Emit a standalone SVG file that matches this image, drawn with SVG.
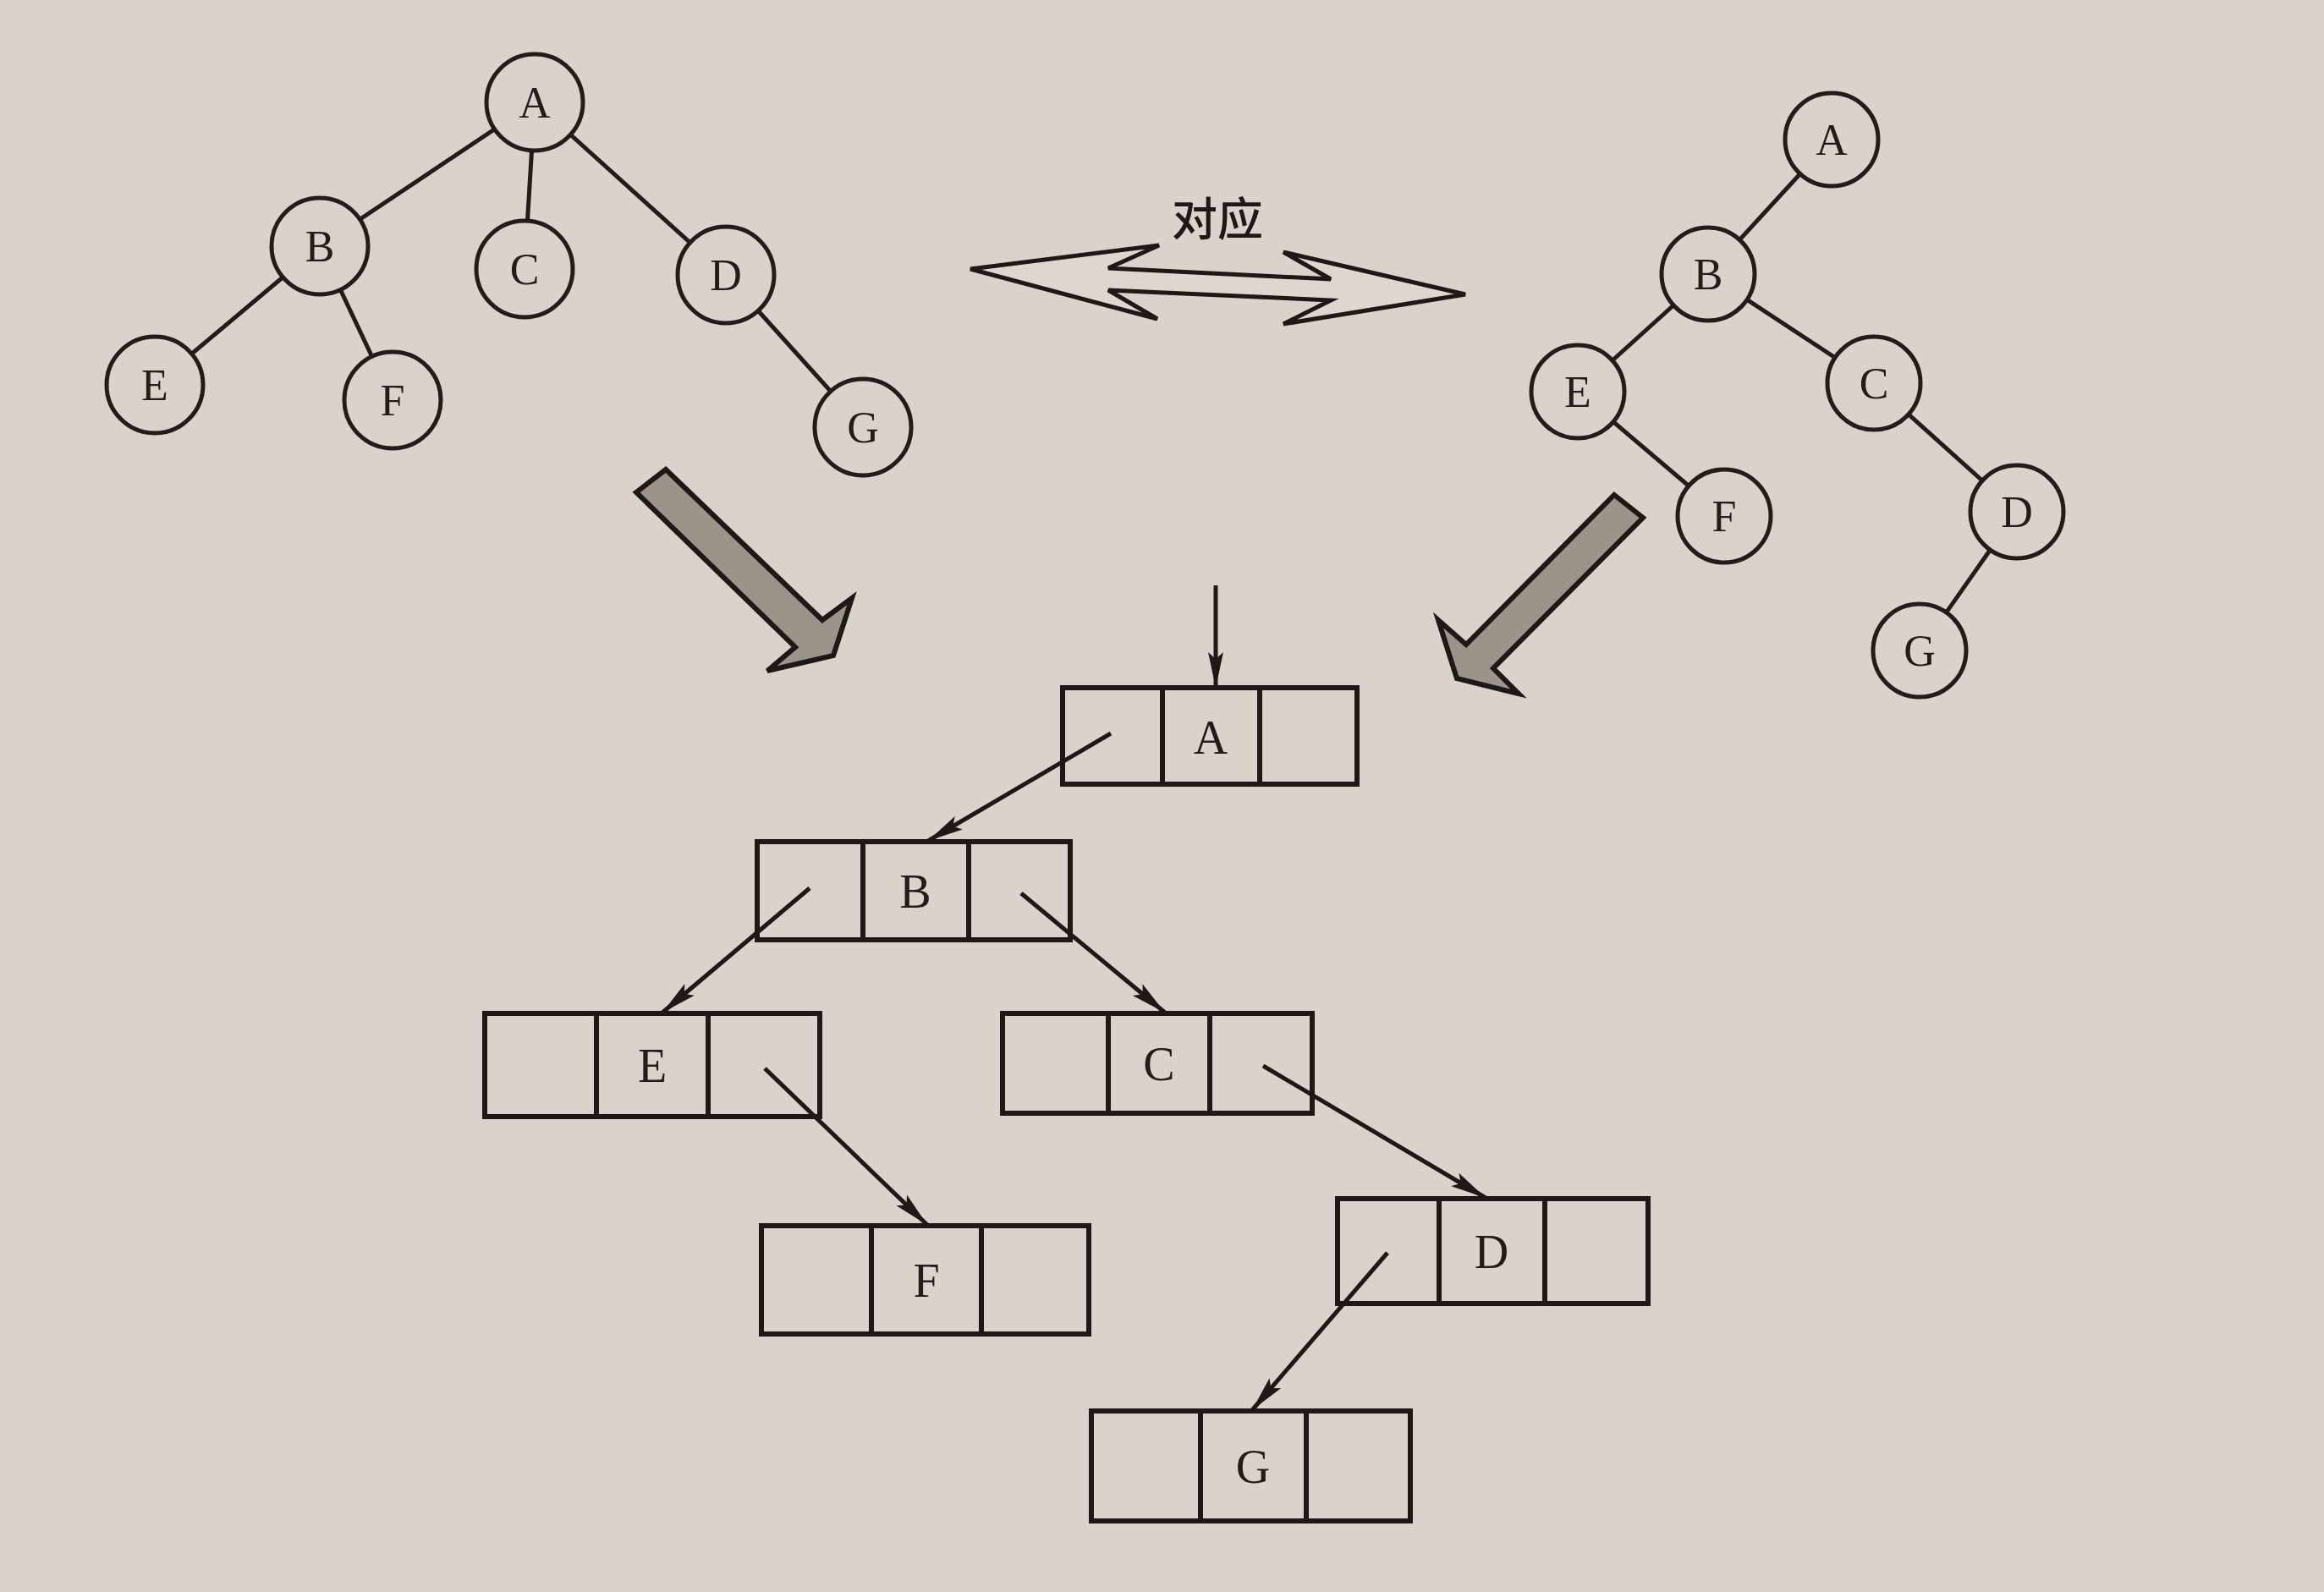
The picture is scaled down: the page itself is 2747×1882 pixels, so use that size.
<svg xmlns="http://www.w3.org/2000/svg" width="2747" height="1882" viewBox="0 0 2747 1882">
<defs>
<style>
.bg{fill:#d9d3cb}
.circ{fill:#d9d3cb;stroke:#231c1a;stroke-width:5}
.edge{stroke:#231c1a;stroke-width:5;fill:none}
.lbl{font-family:"Liberation Serif","Times New Roman",serif;font-size:52px;fill:#231c1a;text-anchor:middle;dominant-baseline:central}
.blbl{font-family:"Liberation Serif","Times New Roman",serif;font-size:56px;fill:#231c1a;text-anchor:middle;dominant-baseline:central}
.box{fill:none;stroke:#1e1816;stroke-width:6}
.link{stroke:#1e1816;stroke-width:5;fill:none;marker-end:url(#ah)}
.big{fill:#9c938b;stroke:#1e1816;stroke-width:6;stroke-linejoin:miter}
.dbl{fill:#ddd7cf;stroke:#1e1816;stroke-width:5;stroke-linejoin:miter}
.cjk{font-family:"Noto Sans CJK SC","Noto Sans",sans-serif;font-size:54px;font-weight:500;fill:#1e1816;text-anchor:middle;dominant-baseline:central}
</style>
<marker id="ah" markerUnits="userSpaceOnUse" markerWidth="46" markerHeight="24" refX="42" refY="12" orient="auto">
<path d="M0,3 L42,12 L0,21 L8,12 Z" fill="#1e1816"/>
</marker>
</defs>
<rect class="bg" x="0" y="0" width="2747" height="1882"/>

<g id="left-tree-edges">
<line class="edge" x1="632" y1="121" x2="378" y2="291"/>
<line class="edge" x1="632" y1="121" x2="620" y2="318"/>
<line class="edge" x1="632" y1="121" x2="858" y2="325"/>
<line class="edge" x1="378" y1="291" x2="183" y2="455"/>
<line class="edge" x1="378" y1="291" x2="464" y2="473"/>
<line class="edge" x1="858" y1="325" x2="1020" y2="505"/>
</g>
<g id="L-A"><circle class="circ" cx="632" cy="121" r="57"/><text class="lbl" x="632" y="121">A</text></g>
<g id="L-B"><circle class="circ" cx="378" cy="291" r="57"/><text class="lbl" x="378" y="291">B</text></g>
<g id="L-C"><circle class="circ" cx="620" cy="318" r="57"/><text class="lbl" x="620" y="318">C</text></g>
<g id="L-D"><circle class="circ" cx="858" cy="325" r="57"/><text class="lbl" x="858" y="325">D</text></g>
<g id="L-E"><circle class="circ" cx="183" cy="455" r="57"/><text class="lbl" x="183" y="455">E</text></g>
<g id="L-F"><circle class="circ" cx="464" cy="473" r="57"/><text class="lbl" x="464" y="473">F</text></g>
<g id="L-G"><circle class="circ" cx="1020" cy="505" r="57"/><text class="lbl" x="1020" y="505">G</text></g>

<g id="right-tree-edges">
<line class="edge" x1="2165" y1="165" x2="2019" y2="324"/>
<line class="edge" x1="2019" y1="324" x2="1865" y2="463"/>
<line class="edge" x1="2019" y1="324" x2="2215" y2="453"/>
<line class="edge" x1="1865" y1="463" x2="2038" y2="610"/>
<line class="edge" x1="2215" y1="453" x2="2384" y2="605"/>
<line class="edge" x1="2384" y1="605" x2="2269" y2="769"/>
</g>
<g id="R-A"><circle class="circ" cx="2165" cy="165" r="55"/><text class="lbl" x="2165" y="165">A</text></g>
<g id="R-B"><circle class="circ" cx="2019" cy="324" r="55"/><text class="lbl" x="2019" y="324">B</text></g>
<g id="R-E"><circle class="circ" cx="1865" cy="463" r="55"/><text class="lbl" x="1865" y="463">E</text></g>
<g id="R-C"><circle class="circ" cx="2215" cy="453" r="55"/><text class="lbl" x="2215" y="453">C</text></g>
<g id="R-F"><circle class="circ" cx="2038" cy="610" r="55"/><text class="lbl" x="2038" y="610">F</text></g>
<g id="R-D"><circle class="circ" cx="2384" cy="605" r="55"/><text class="lbl" x="2384" y="605">D</text></g>
<g id="R-G"><circle class="circ" cx="2269" cy="769" r="55"/><text class="lbl" x="2269" y="769">G</text></g>

<g id="correspond">
<polygon class="dbl" points="1147,318 1370,290 1310,317 1573,330 1517,298 1732,348 1517,383 1573,355 1310,343 1368,377"/>
<text class="cjk" x="1439" y="255">对应</text>
</g>

<g id="big-arrows">
<polygon class="big" points="787,555 752,582 940,765 907,793 985,775 1007,707 972,733"/>
<polygon class="big" points="1908,585 1942,612 1765,790 1795,820 1722,802 1700,733 1733,762"/>
</g>

<g id="N-A">
<rect class="box" x="1256" y="813" width="348" height="114"/>
<line class="box" x1="1374" y1="813" x2="1374" y2="927"/><line class="box" x1="1489" y1="813" x2="1489" y2="927"/>
<text class="blbl" x="1431" y="872">A</text>
</g>
<g id="N-B">
<rect class="box" x="895" y="995" width="370" height="116"/>
<line class="box" x1="1020" y1="995" x2="1020" y2="1111"/><line class="box" x1="1145" y1="995" x2="1145" y2="1111"/>
<text class="blbl" x="1082" y="1054">B</text>
</g>
<g id="N-E">
<rect class="box" x="573" y="1198" width="396" height="122"/>
<line class="box" x1="705" y1="1198" x2="705" y2="1320"/><line class="box" x1="837" y1="1198" x2="837" y2="1320"/>
<text class="blbl" x="771" y="1260">E</text>
</g>
<g id="N-C">
<rect class="box" x="1185" y="1198" width="366" height="118"/>
<line class="box" x1="1310" y1="1198" x2="1310" y2="1316"/><line class="box" x1="1430" y1="1198" x2="1430" y2="1316"/>
<text class="blbl" x="1370" y="1258">C</text>
</g>
<g id="N-F">
<rect class="box" x="900" y="1449" width="387" height="128"/>
<line class="box" x1="1030" y1="1449" x2="1030" y2="1577"/><line class="box" x1="1160" y1="1449" x2="1160" y2="1577"/>
<text class="blbl" x="1095" y="1514">F</text>
</g>
<g id="N-D">
<rect class="box" x="1581" y="1417" width="367" height="124"/>
<line class="box" x1="1701" y1="1417" x2="1701" y2="1541"/><line class="box" x1="1826" y1="1417" x2="1826" y2="1541"/>
<text class="blbl" x="1763" y="1480">D</text>
</g>
<g id="N-G">
<rect class="box" x="1290" y="1668" width="377" height="130"/>
<line class="box" x1="1419" y1="1668" x2="1419" y2="1798"/><line class="box" x1="1544" y1="1668" x2="1544" y2="1798"/>
<text class="blbl" x="1481" y="1734">G</text>
</g>

<g id="connectors">
<line class="link" x1="1437" y1="692" x2="1437" y2="813"/>
<line class="link" x1="1313" y1="867" x2="1097" y2="994"/>
<line class="link" x1="957" y1="1050" x2="783" y2="1197"/>
<line class="link" x1="1207" y1="1056" x2="1377" y2="1197"/>
<line class="link" x1="904" y1="1263" x2="1096" y2="1448"/>
<line class="link" x1="1493" y1="1260" x2="1756" y2="1416"/>
<line class="link" x1="1640" y1="1481" x2="1480" y2="1667"/>
</g>
</svg>
